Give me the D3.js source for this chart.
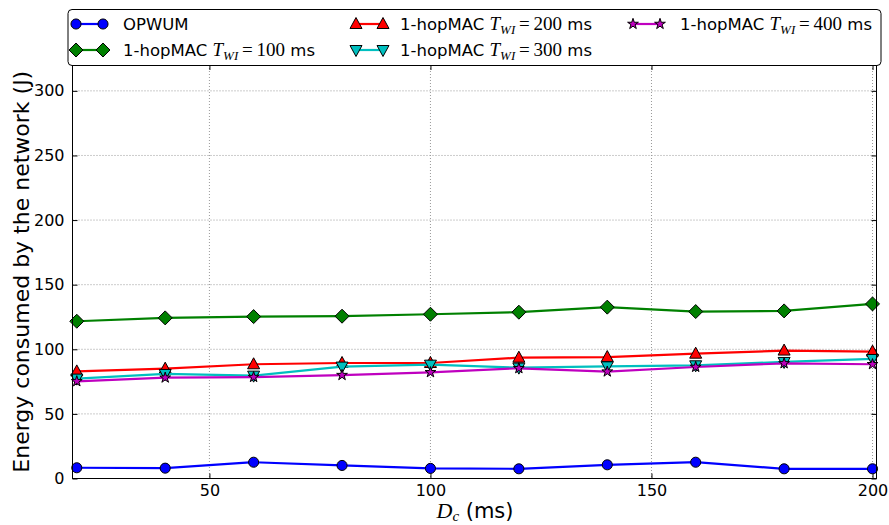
<!DOCTYPE html>
<html><head><meta charset="utf-8">
<script src="https://cdn.jsdelivr.net/npm/d3@7"></script>
<style>body{margin:0;background:#fff;} text{font-family:"DejaVu Sans",sans-serif;}</style>
</head><body><svg id="c" width="889" height="525"></svg>
<script>
const xValues = [20, 40, 60, 80, 100, 120, 140, 160, 180, 200];
const opwum   = [8.3, 8.0, 12.6, 10.1, 7.8, 7.5, 10.6, 12.6, 7.5, 7.5];
const hop100  = [121.7, 124.3, 125.3, 125.6, 127.1, 128.7, 132.6, 129.2, 129.7, 135.1];
const hop200  = [82.9, 85.0, 88.4, 89.4, 89.4, 93.5, 94.0, 96.6, 99.0, 98.2];
const hop300  = [77.3, 80.9, 79.6, 86.6, 88.1, 85.8, 86.8, 87.6, 90.2, 92.5];
const hop400  = [75.2, 78.0, 78.5, 80.0, 82.2, 85.3, 82.7, 86.3, 89.1, 88.4];
const xTicks = [50, 100, 150, 200];
const yTicks = [0, 50, 100, 150, 200, 250, 300];
const seriesNames = ["OPWUM", "1-hopMAC", "1-hopMAC", "1-hopMAC", "1-hopMAC"];
const twiLabels = [null, "100", "200", "300", "400"];

const series = [
  {name: seriesNames[0], twi: twiLabels[0], values: opwum,  color: "#0000ff", marker: "circle"},
  {name: seriesNames[1], twi: twiLabels[1], values: hop100, color: "#008000", marker: "diamond"},
  {name: seriesNames[2], twi: twiLabels[2], values: hop200, color: "#ff0000", marker: "up"},
  {name: seriesNames[3], twi: twiLabels[3], values: hop300, color: "#00bfbf", marker: "down"},
  {name: seriesNames[4], twi: twiLabels[4], values: hop400, color: "#bf00bf", marker: "star"}
];

const svg = d3.select("#c");
const L = 72.5, R = 876.5, T = 65, B = 478.5;
const x = d3.scaleLinear().domain([19.03, 200.9]).range([L, R]);
const y = d3.scaleLinear().domain([0, 320]).range([B, T]);

// grid
const g = svg.append("g");
g.selectAll(".gx").data(xTicks).join("line")
  .attr("x1", d => x(d)).attr("x2", d => x(d)).attr("y1", T).attr("y2", B)
  .attr("stroke", "#999").attr("stroke-width", 1).attr("stroke-dasharray", "1,2");
g.selectAll(".gy").data(yTicks.filter(d => d > 0)).join("line")
  .attr("x1", L).attr("x2", R).attr("y1", d => y(d)).attr("y2", d => y(d))
  .attr("stroke", "#999").attr("stroke-width", 1).attr("stroke-dasharray", "1,2");

// axes
const xAxB = d3.axisBottom(x).tickValues(xTicks).tickSizeInner(-5).tickSizeOuter(0).tickPadding(6);
const xAxT = d3.axisTop(x).tickValues(xTicks).tickSizeInner(-5).tickSizeOuter(0).tickFormat("");
const yAxL = d3.axisLeft(y).tickValues(yTicks).tickSizeInner(-5).tickSizeOuter(0).tickPadding(8);
const yAxR = d3.axisRight(y).tickValues(yTicks).tickSizeInner(-5).tickSizeOuter(0).tickFormat("");
function styleAx(sel){
  sel.select(".domain").remove();
  sel.selectAll("line").attr("stroke", "#000");
  sel.selectAll("text").attr("font-size", 16).attr("fill", "#000").attr("font-family", "DejaVu Sans");
}
svg.append("g").attr("transform", `translate(0,${B})`).call(xAxB).call(styleAx);
svg.append("g").attr("transform", `translate(0,${T})`).call(xAxT).call(styleAx);
svg.append("g").attr("transform", `translate(${L},0)`).call(yAxL).call(styleAx);
svg.append("g").attr("transform", `translate(${R},0)`).call(yAxR).call(styleAx);

// markers
function markerPath(type){
  switch(type){
    case "circle": return d3.symbol(d3.symbolCircle, 80)();
    case "diamond": return "M0,-7L7,0L0,7L-7,0Z";
    case "up": return "M0,-6.5L6,4.5L-6,4.5Z";
    case "down": return "M0,6.5L6,-4.5L-6,-4.5Z";
    case "star": return d3.symbol(d3.symbolStar, 36)();
  }
}

const line = d3.line().x((d, i) => x(xValues[i])).y(d => y(d));
series.forEach(s => {
  const sg = svg.append("g");
  sg.append("path").datum(s.values).attr("d", line)
    .attr("fill", "none").attr("stroke", s.color).attr("stroke-width", 2.2);
  sg.selectAll("path.m").data(s.values).join("path").attr("class", "m")
    .attr("d", markerPath(s.marker))
    .attr("transform", (d, i) => `translate(${x(xValues[i])},${y(d)})`)
    .attr("fill", s.color).attr("stroke", "#000").attr("stroke-width", 1);
});

// frame
svg.append("rect").attr("x", L).attr("y", T).attr("width", R - L).attr("height", B - T)
  .attr("fill", "none").attr("stroke", "#000").attr("stroke-width", 1);

// axis labels
svg.append("text").attr("x", 475).attr("y", 518).attr("text-anchor", "middle").attr("font-size", 21)
  .call(t => {
    t.append("tspan").attr("font-family", "Liberation Serif").attr("font-style", "italic").attr("font-size", 22).text("D");
    t.append("tspan").attr("font-family", "Liberation Serif").attr("font-style", "italic").attr("font-size", 15).attr("dy", 3).text("c");
    t.append("tspan").attr("dy", -3).text(" (ms)");
  });
svg.append("text").attr("transform", `translate(29,${(T + B) / 2}) rotate(-90)`)
  .attr("text-anchor", "middle").attr("font-size", 22).text("Energy consumed by the network (J)");

// legend
const leg = svg.append("g");
leg.append("rect").attr("x", 68).attr("y", 9.5).attr("width", 813).attr("height", 56).attr("rx", 4)
  .attr("fill", "#fff").attr("stroke", "#000").attr("stroke-width", 1);
const cols = [{hx: 76, tx: 123}, {hx: 356, tx: 400}, {hx: 633, tx: 680}];
const rows = [24, 50];
series.forEach((s, i) => {
  const c = cols[Math.floor(i / 2)], ry = rows[i % 2];
  leg.append("line").attr("x1", c.hx).attr("x2", c.hx + 27).attr("y1", ry).attr("y2", ry)
    .attr("stroke", s.color).attr("stroke-width", 2.2);
  [c.hx, c.hx + 27].forEach(px => {
    leg.append("path").attr("d", markerPath(s.marker)).attr("transform", `translate(${px},${ry})`)
      .attr("fill", s.color).attr("stroke", "#000").attr("stroke-width", 1);
  });
  const t = leg.append("text").attr("x", c.tx).attr("y", ry + 6).attr("font-size", 16.5);
  t.append("tspan").text(s.name);
  if (s.twi) {
    t.append("tspan").text(" ");
    t.append("tspan").attr("font-family", "Liberation Serif").attr("font-style", "italic").attr("font-size", 19).text("T");
    t.append("tspan").attr("font-family", "Liberation Serif").attr("font-style", "italic").attr("font-size", 13).attr("dy", 4).text("WI");
    t.append("tspan").attr("font-family", "Liberation Serif").attr("font-size", 19).attr("dy", -4).text("\u2009=\u2009" + s.twi);
    t.append("tspan").text(" ms");
  }
});
</script></body></html>
